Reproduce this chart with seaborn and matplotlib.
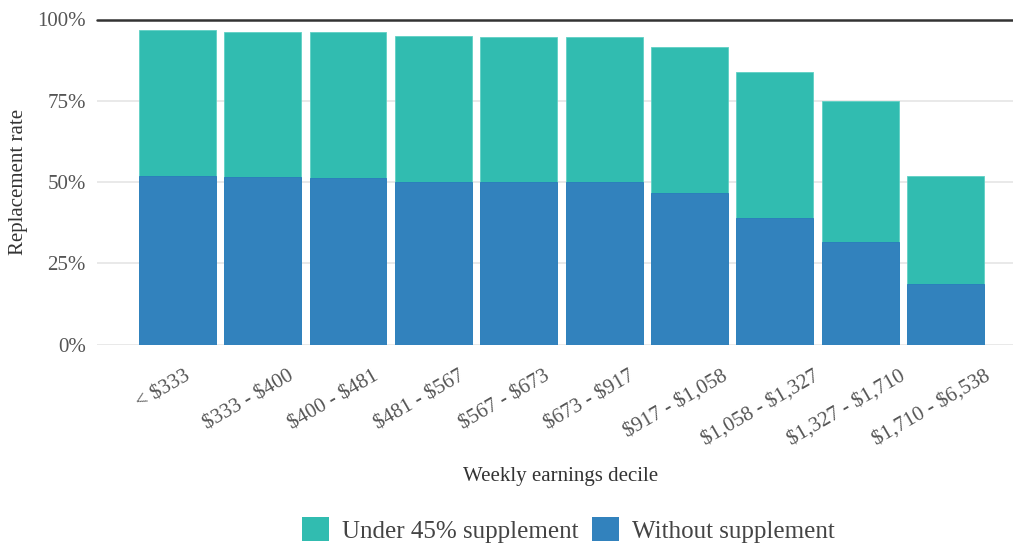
import pandas as pd
import seaborn as sns
import matplotlib.pyplot as plt
import matplotlib.transforms as mtransforms
from matplotlib.patches import Patch

deciles = ['< $333', '$333 - $400', '$400 - $481', '$481 - $567', '$567 - $673',
           '$673 - $917', '$917 - $1,058', '$1,058 - $1,327', '$1,327 - $1,710',
           '$1,710 - $6,538']
# replacement rate, %
total_with_supp = [96.8, 96.3, 96.3, 94.9, 94.7, 94.7, 91.5, 83.8, 75.0, 51.8]
without_supp = [51.8, 51.4, 51.2, 50.0, 50.0, 50.0, 46.5, 38.9, 31.4, 18.7]
y_ticks = [0, 25, 50, 75, 100]

teal = '#31bcb0'
blue = '#3282bd'
grey_txt = '#555555'

sns.set_theme(style='white')
plt.rcParams['font.family'] = ['Liberation Serif', 'DejaVu Serif']
plt.rcParams['text.parse_math'] = False  # dollar signs are literal

df = pd.DataFrame({'decile': deciles, 'total': total_with_supp, 'base': without_supp})

fig = plt.figure(figsize=(10.13, 5.43), dpi=100)
ax = fig.add_axes([97 / 1013, (543 - 344.5) / 543, 1 - 97 / 1013, 325 / 543])

# stacked look: full height teal, then blue part over it
sns.barplot(data=df, x='decile', y='total', color=teal, saturation=1, width=0.9,
            edgecolor='#5fd0c4', linewidth=0.6, ax=ax)
sns.barplot(data=df, x='decile', y='base', color=blue, saturation=1, width=0.9,
            edgecolor='#2b7bbd', linewidth=0.6, ax=ax)

ax.set_ylim(0, 100)
ax.set_xlim(-0.94, 9.79)
ax.set_yticks(y_ticks)
ax.set_yticklabels([f'{t}%' for t in y_ticks])
for t in y_ticks[:-1]:
    ax.axhline(t, color='#e5e5e5', lw=1.2, zorder=0)
ax.axhline(100, color='#333333', lw=1.8, zorder=3, clip_on=False)
for s in ax.spines.values():
    s.set_visible(False)

ax.tick_params(axis='y', length=0, pad=8, labelsize=15, labelcolor=grey_txt)
ax.tick_params(axis='x', length=0, pad=16, labelsize=15, labelcolor=grey_txt)
offset = mtransforms.ScaledTranslation(-14 / 100, 0, fig.dpi_scale_trans)
for lab in ax.get_xticklabels():
    lab.set_rotation(30)
    lab.set_ha('center')
    lab.set_va('top')
    lab.set_transform(lab.get_transform() + offset)

ax.set_ylabel('Replacement rate', fontsize=15, color='#333333')
ax.yaxis.set_label_coords(-(97 - 28) / (1013 - 97), 0.5)
ax.set_xlabel('Weekly earnings decile', fontsize=15, color='#333333')
ax.xaxis.set_label_coords((561 - 97) / (1013 - 97), (344.5 - 467) / 325)

handles = [Patch(facecolor=teal, edgecolor='none'), Patch(facecolor=blue, edgecolor='none')]
fig.legend(handles, ['Under 45% supplement', 'Without supplement'], loc='center',
           bbox_to_anchor=(568 / 1013, 1 - 530 / 543), ncol=2, frameon=False,
           fontsize=18, labelcolor='#444444', handlelength=1.1, handleheight=1.1,
           handletextpad=0.5, columnspacing=0.55, borderpad=0)

fig.savefig('out.png', dpi=100)
